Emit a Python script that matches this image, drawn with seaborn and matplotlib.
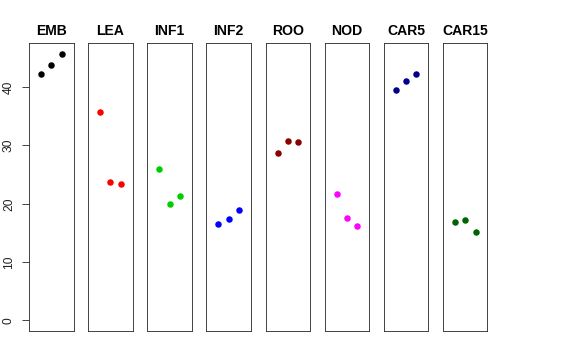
import matplotlib
matplotlib.use("Agg")
import matplotlib.pyplot as plt
import seaborn as sns
import pandas as pd

sns.set_theme(style="white")
plt.rcParams['font.family'] = ['Liberation Sans', 'DejaVu Sans']
plt.rcParams['text.color'] = 'black'
plt.rcParams['axes.labelcolor'] = 'black'

categories = ["EMB", "LEA", "INF1", "INF2", "ROO", "NOD", "CAR5", "CAR15"]
colors = ["#000000", "#FF0000", "#00CD00", "#0000FF", "#8B0000", "#FF00FF", "#00008B", "#006400"]
replicate = [1, 2, 3]
values = {
    "EMB":   [42.2, 43.8, 45.7],
    "LEA":   [35.7, 23.7, 23.35],
    "INF1":  [26.0, 20.0, 21.35],
    "INF2":  [16.5, 17.4, 18.9],
    "ROO":   [28.7, 30.8, 30.65],
    "NOD":   [21.6, 17.6, 16.1],
    "CAR5":  [39.6, 41.0, 42.2],
    "CAR15": [16.85, 17.2, 15.2],
}
yticks = [0, 10, 20, 30, 40]

W, H = 576, 360
fig = plt.figure(figsize=(W / 72, H / 72), dpi=72)

box_top, box_bottom = 43.3, 331.0
left0, step, width = 29.0, 59.14, 44.5
ymax = 45.7
ypad = 0.04 * ymax

for i, (cat, col) in enumerate(zip(categories, colors)):
    left = left0 + i * step
    ax = fig.add_axes([left / W, 1 - box_bottom / H, width / W, (box_bottom - box_top) / H])
    df = pd.DataFrame({"rep": replicate, "val": values[cat]})
    sns.scatterplot(data=df, x="rep", y="val", ax=ax, color=col, s=42,
                    edgecolor=col, linewidth=0, legend=False)
    ax.set_xlim(-0.16, 4.16)
    ax.set_ylim(-ypad, ymax + ypad)
    ax.set_xlabel("")
    ax.set_ylabel("")
    ax.set_xticks([])
    ax.set_title(cat, fontsize=14, fontweight="bold", pad=8, color="black")
    for sp in ax.spines.values():
        sp.set_visible(True)
        sp.set_color("#333333")
        sp.set_linewidth(0.9)
    if i == 0:
        ax.set_yticks(yticks)
        ax.set_yticklabels([str(t) for t in yticks], rotation=90, va="center", fontsize=12)
        ax.tick_params(axis="y", length=7, width=0.9, color="#333333", pad=7, left=True,
                       labelsize=12, labelcolor="#222222")
    else:
        ax.set_yticks([])

fig.savefig("out.png", dpi=72, facecolor="white")
